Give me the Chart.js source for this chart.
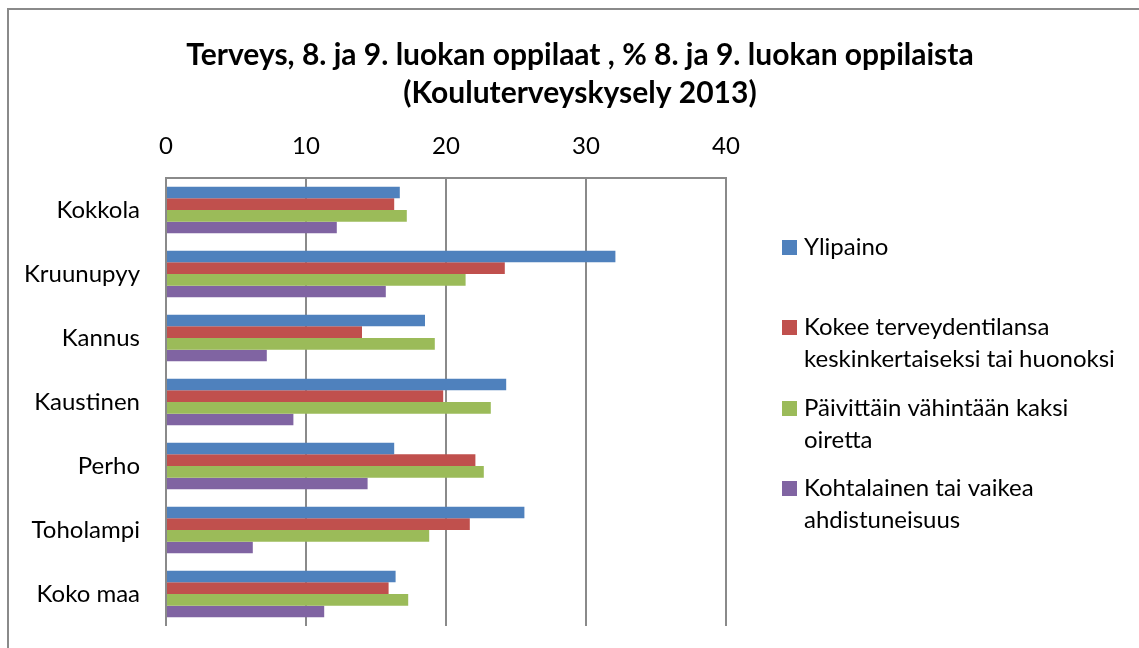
<!DOCTYPE html>
<html lang="fi">
<head>
	<meta charset="UTF-8">
	<title>Terveys, 8. ja 9. luokan oppilaat</title>
	<script src="https://cdn.jsdelivr.net/npm/chart.js"></script>
	<style>
		body {
			margin: 0;
			padding: 0;
			background: #fff;
		}
	</style>
</head>
<body>
	<canvas id="chart" width="1139" height="648"></canvas>

	<script>
		// data
		const kunnat = ['Kokkola', 'Kruunupyy', 'Kannus', 'Kaustinen', 'Perho', 'Toholampi', 'Koko maa'];
		const ylipaino = [16.7, 32.1, 18.5, 24.3, 16.3, 25.6, 16.4];
		const kokeeHuonoksi = [16.3, 24.2, 14.0, 19.8, 22.1, 21.7, 15.9];
		const kaksiOiretta = [17.2, 21.4, 19.2, 23.2, 22.7, 18.8, 17.3];
		const ahdistuneisuus = [12.2, 15.7, 7.2, 9.1, 14.4, 6.2, 11.3];
		const xTicks = [0, 10, 20, 30, 40];

		const titleLines = ['Terveys, 8. ja 9. luokan oppilaat , % 8. ja 9. luokan oppilaista', '(Kouluterveyskysely 2013)'];
		const legendLabels = [
			['Ylipaino'],
			['Kokee terveydentilansa', 'keskinkertaiseksi tai huonoksi'],
			['Päivittäin vähintään kaksi', 'oiretta'],
			['Kohtalainen tai vaikea', 'ahdistuneisuus']
		];

		const font = 'Lato, sans-serif';

		// draws the outer frame, the title and the legend on the right
		const framePlugin = {
			id: 'frame',
			afterDraw(chart) {
				const ctx = chart.ctx;
				const area = chart.chartArea;
				ctx.save();

				ctx.strokeStyle = '#8a8a8a';
				ctx.lineWidth = 2;
				ctx.beginPath();
				ctx.moveTo(8, 700);
				ctx.lineTo(8, 9);
				ctx.lineTo(1200, 9);
				ctx.stroke();

				ctx.fillStyle = '#000';
				ctx.font = 'bold 30px ' + font;
				ctx.textAlign = 'center';
				ctx.textBaseline = 'middle';
				titleLines.forEach((line, i) => ctx.fillText(line, 580, 55 + i * 38));

				ctx.font = '24px ' + font;
				ctx.textAlign = 'left';
				const startY = [247, 327, 408, 488];
				chart.data.datasets.forEach((ds, i) => {
					const y = startY[i];
					ctx.fillStyle = ds.backgroundColor;
					ctx.fillRect(area.right + 56, y - 7, 15, 15);
					ctx.fillStyle = '#000';
					ds.label.forEach((line, j) => ctx.fillText(line, area.right + 78, y + j * 32));
				});
				ctx.restore();
			}
		};

		new Chart(document.getElementById('chart'), {
			type: 'bar',
			data: {
				labels: kunnat,
				datasets: [
					{label: legendLabels[0], data: ylipaino, backgroundColor: '#4F81BD'},
					{label: legendLabels[1], data: kokeeHuonoksi, backgroundColor: '#C0504D'},
					{label: legendLabels[2], data: kaksiOiretta, backgroundColor: '#9BBB59'},
					{label: legendLabels[3], data: ahdistuneisuus, backgroundColor: '#8064A2'}
				]
			},
			options: {
				indexAxis: 'y',
				responsive: false,
				animation: false,
				categoryPercentage: 0.73,
				barPercentage: 1,
				layout: {
					padding: {left: 0, right: 413, top: 128, bottom: 22}
				},
				plugins: {
					legend: {display: false},
					title: {display: false},
					tooltip: {enabled: false}
				},
				scales: {
					x: {
						position: 'top',
						min: 0,
						max: 40,
						afterBuildTicks: scale => {
							scale.ticks = xTicks.map(v => ({value: v}));
						},
						afterFit: scale => {
							scale.height = 50;
							scale.paddingLeft = 0;
							scale.paddingRight = 0;
						},
						grid: {
							color: '#8a8a8a',
							lineWidth: 2,
							drawTicks: false
						},
						border: {
							color: '#8a8a8a',
							width: 2
						},
						ticks: {
							color: '#000',
							padding: 17,
							font: {family: font, size: 24}
						}
					},
					y: {
						afterFit: scale => {
							scale.width = 166;
							scale.paddingTop = 0;
							scale.paddingBottom = 0;
						},
						grid: {display: false},
						border: {display: false},
						ticks: {
							color: '#000',
							padding: 18,
							font: {family: font, size: 24}
						}
					}
				}
			},
			plugins: [framePlugin]
		});
	</script>
</body>
</html>
